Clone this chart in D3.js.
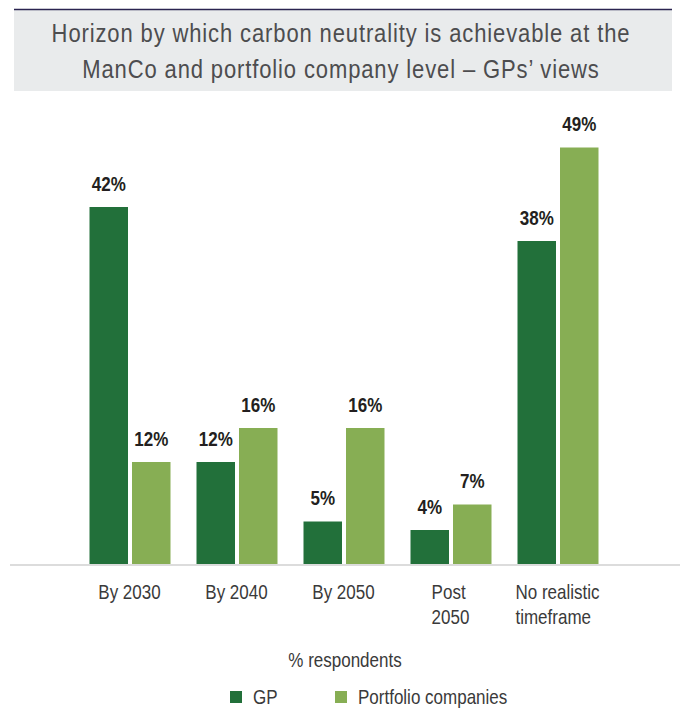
<!DOCTYPE html>
<html>
<head>
<meta charset="utf-8">
<script src="https://cdn.jsdelivr.net/npm/d3@7/dist/d3.min.js"></script>
<style>
  html, body { margin: 0; padding: 0; background: #fff; }
  svg { display: block; }
</style>
</head>
<body>
<svg id="chart" width="684" height="711"></svg>
<script>
// ---- Data ----
const titleLines = ["Horizon by which carbon neutrality is achievable at the", "ManCo and portfolio company level \u2013 GPs\u2019 views"];
const categories = [["By 2030"], ["By 2040"], ["By 2050"], ["Post", "2050"], ["No realistic", "timeframe"]];
const seriesNames = ["GP", "Portfolio companies"];
const gpValues = [42, 12, 5, 4, 38];
const pcValues = [12, 16, 16, 7, 49];
const axisTitle = "% respondents";
const colors = ["#22703a", "#87ae54"];

const svg = d3.select("#chart");
const FONT = "'Liberation Sans', Arial, sans-serif";

// condensed text helper: horizontal squeeze via transform
function ctext(parent, x, y, str, opts) {
  const o = Object.assign({ size: 20, sx: 0.81, anchor: "middle", weight: "normal", fill: "#3a3a3a", ls: 0 }, opts || {});
  const g = parent.append("g").attr("transform", `translate(${x},${y}) scale(${o.sx},1)`);
  const t = g.append("text")
    .attr("x", 0).attr("y", 0)
    .attr("text-anchor", o.anchor)
    .attr("font-family", FONT).attr("font-size", o.size)
    .attr("font-weight", o.weight)
    .attr("letter-spacing", o.ls)
    .attr("fill", o.fill)
    .text(str);
  return { g, t, width: () => t.node().getComputedTextLength() * o.sx };
}

// ---- Title box ----
svg.append("rect").attr("x", 14).attr("y", 9.5).attr("width", 658).attr("height", 81.5).attr("fill", "#e9ebec");
svg.append("line").attr("x1", 14).attr("x2", 672).attr("y1", 9.5).attr("y2", 9.5)
  .attr("stroke", "#2b2450").attr("stroke-width", 1.5);
titleLines.forEach((ln, i) => {
  ctext(svg, 341, 41.5 + i * 36, ln, { size: 25, sx: 0.88, ls: 1, fill: "#4d4d4f" });
});

// ---- Scales ----
const catKeys = categories.map(c => c.join(" "));
const x0 = d3.scaleBand().domain(catKeys).range([76, 611]).padding(0);
const x1 = d3.scaleBand().domain(seriesNames).range([13.5, 94.5]).paddingInner(4 / 42.5).paddingOuter(0);
const y = d3.scaleLinear().domain([0, 50]).range([564, 139]);

const rows = catKeys.map((k, i) => ({ key: k, lines: categories[i], values: [gpValues[i], pcValues[i]] }));

// ---- Bars ----
const groups = svg.selectAll(".grp").data(rows).enter().append("g")
  .attr("class", "grp")
  .attr("transform", d => `translate(${x0(d.key)},0)`);

groups.selectAll("rect").data(d => d.values.map((v, j) => ({ s: seriesNames[j], v, j })))
  .enter().append("rect")
  .attr("x", d => x1(d.s)).attr("width", x1.bandwidth())
  .attr("y", d => y(d.v)).attr("height", d => y(0) - y(d.v))
  .attr("fill", d => colors[d.j]);

groups.each(function (d) {
  const gsel = d3.select(this);
  d.values.forEach((v, j) => {
    ctext(gsel, x1(seriesNames[j]) + x1.bandwidth() / 2, y(v) - 16.5, v + "%",
      { size: 20, sx: 0.85, weight: "bold", fill: "#231f20" });
  });
});

// ---- Axis line ----
svg.append("line").attr("x1", 10).attr("x2", 680).attr("y1", 565).attr("y2", 565)
  .attr("stroke", "#dcdcdc").attr("stroke-width", 2);

// ---- Category labels (multi-line blocks left-aligned, centered on group) ----
const labelG = svg.append("g");
rows.forEach(r => {
  const cx = x0(r.key) + x0.bandwidth() / 2;
  if (r.lines.length === 1) {
    ctext(labelG, cx, 599, r.lines[0], { size: 21 });
  } else {
    const items = r.lines.map((ln, i) => ctext(labelG, 0, 599 + i * 25, ln, { size: 21, anchor: "start" }));
    const w = d3.max(items, it => it.width());
    items.forEach((it, i) => it.g.attr("transform", `translate(${cx - w / 2},${599 + i * 25}) scale(0.81,1)`));
  }
});

// ---- Axis title ----
ctext(svg, 345, 667, axisTitle, { size: 21 });

// ---- Legend ----
const legendX = [230, 335];
seriesNames.forEach((s, i) => {
  svg.append("rect").attr("x", legendX[i]).attr("y", 691).attr("width", 12).attr("height", 12).attr("fill", colors[i]);
  ctext(svg, legendX[i] + 23, 704, s, { size: 21, anchor: "start" });
});
</script>
</body>
</html>
